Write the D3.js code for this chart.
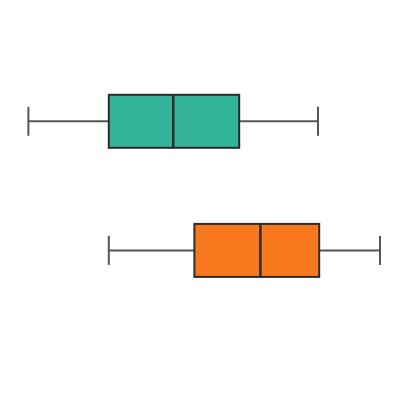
<!DOCTYPE html>
<html>
<head>
<meta charset="utf-8">
<script src="https://cdn.jsdelivr.net/npm/d3@7"></script>
<style>
  body { margin: 0; background: white; }
</style>
</head>
<body>
<div id="chart"></div>
<script>
// box plot stats
const groups = ['A', 'B']
const mins = [0.71, 2.72]
const q1s = [2.72, 4.86]
const medians = [4.33, 6.51]
const q3s = [5.98, 7.98]
const maxs = [7.95, 9.5]
const colors = ['#33b39a', '#f8791d']

const width = 400, height = 400
const boxHeight = 53, capHeight = 29

const svg = d3.select('#chart').append('svg')
    .attr('width', width)
    .attr('height', height)

const x = d3.scaleLinear().domain([0, 10]).range([0, width])
const y = d3.scalePoint().domain(groups).range([121.3, 250.4])

const data = groups.map((g, i) => ({
    group: g, min: mins[i], q1: q1s[i], median: medians[i], q3: q3s[i], max: maxs[i], color: colors[i]
}))

const box = svg.selectAll('.box')
    .data(data)
    .enter().append('g')
    .attr('class', 'box')
    .attr('transform', d => `translate(0,${y(d.group)})`)

// whiskers
box.append('line')
    .attr('x1', d => x(d.min)).attr('x2', d => x(d.q1))
    .attr('y1', 0).attr('y2', 0)
    .attr('stroke', '#555').attr('stroke-width', 2)
box.append('line')
    .attr('x1', d => x(d.q3)).attr('x2', d => x(d.max))
    .attr('y1', 0).attr('y2', 0)
    .attr('stroke', '#555').attr('stroke-width', 2)

// caps
box.append('line')
    .attr('x1', d => x(d.min)).attr('x2', d => x(d.min))
    .attr('y1', -capHeight / 2).attr('y2', capHeight / 2)
    .attr('stroke', '#555').attr('stroke-width', 2)
box.append('line')
    .attr('x1', d => x(d.max)).attr('x2', d => x(d.max))
    .attr('y1', -capHeight / 2).attr('y2', capHeight / 2)
    .attr('stroke', '#555').attr('stroke-width', 2)

// boxes
box.append('rect')
    .attr('x', d => x(d.q1))
    .attr('y', -boxHeight / 2)
    .attr('width', d => x(d.q3) - x(d.q1))
    .attr('height', boxHeight)
    .attr('fill', d => d.color)
    .attr('stroke', '#2b2b2b').attr('stroke-width', 2)

// median
box.append('line')
    .attr('x1', d => x(d.median)).attr('x2', d => x(d.median))
    .attr('y1', -boxHeight / 2).attr('y2', boxHeight / 2)
    .attr('stroke', '#2b2b2b').attr('stroke-width', 2.5)
</script>
</body>
</html>
